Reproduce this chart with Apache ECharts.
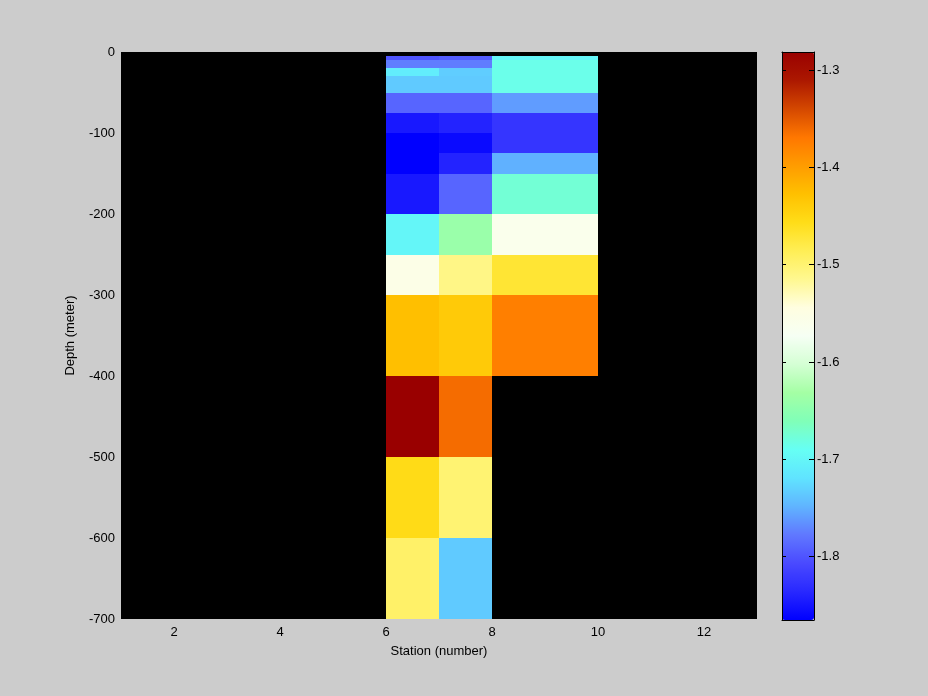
<!DOCTYPE html>
<html>
<head>
<meta charset="utf-8">
<script src="https://cdn.jsdelivr.net/npm/echarts@6/dist/echarts.min.js"></script>
<style>
html,body{margin:0;padding:0;background:#cccccc;}
#chart{width:928px;height:696px;}
</style>
</head>
<body>
<div id="chart"></div>
<script>
// Depth boundaries of rows (m), top to bottom
const depthEdges = [-5, -10, -20, -30, -50, -75, -100, -125, -150, -200, -250, -300, -400, -500, -600, -700];
// Station edges of columns
const stationEdges = [6, 7, 8, 10];
// Values per column (one per depth row), null = no data
const col1Values = [-1.80, -1.775, -1.71, -1.735, -1.79, -1.848, -1.865, -1.865, -1.848, -1.70, -1.555, -1.427, -1.2815, -1.455, -1.495];
const col2Values = [-1.795, -1.775, -1.733, -1.735, -1.79, -1.84, -1.858, -1.84, -1.79, -1.64, -1.51, -1.437, -1.362, -1.50, -1.735];
const col3Values = [-1.70, -1.685, -1.685, -1.685, -1.76, -1.825, -1.825, -1.75, -1.675, -1.562, -1.47, -1.375, null, null, null];
const columns = [col1Values, col2Values, col3Values];

const xTicks = [2, 4, 6, 8, 10, 12];
const colorMin = -1.8652, colorMax = -1.2815;
const colormap = ['#0000FF', '#2828FF', '#4A4AFF', '#6078FF', '#60B4FF', '#60E4FF', '#66FFF4', '#80FFB8',
  '#A4FFA4', '#D4FFD4', '#F6FFF4', '#FFFEE0', '#FFF890', '#FFEE55', '#FFDD18', '#FFC000',
  '#FF9C00', '#FF7700', '#D44800', '#AC1800', '#990000'];

const cells = [];
columns.forEach((vals, c) => {
  vals.forEach((v, r) => {
    if (v !== null) cells.push([stationEdges[c], stationEdges[c + 1], depthEdges[r], depthEdges[r + 1], v]);
  });
});

const font = 'Liberation Sans';
const frameLine = {show: true, onZero: false, lineStyle: {color: '#000', width: 1}};
const chart = echarts.init(document.getElementById('chart'));
chart.setOption({
  backgroundColor: '#cccccc',
  animation: false,
  textStyle: {fontFamily: font},
  grid: [
    {left: 121, top: 52, width: 636, height: 567, show: true, backgroundColor: '#000000', borderWidth: 0},
    {left: 782, top: 52, width: 32, height: 568, show: false}
  ],
  xAxis: [
    {type: 'value', gridIndex: 0, min: 1, max: 13, interval: 1,
      name: 'Station (number)', nameLocation: 'middle', nameGap: 26,
      nameTextStyle: {color: '#000', fontSize: 13, fontFamily: font},
      axisLine: {show: false}, axisTick: {show: false}, splitLine: {show: false},
      axisLabel: {color: '#000', fontSize: 13, fontFamily: font, margin: 7,
        formatter: v => xTicks.indexOf(v) >= 0 ? String(v) : ''}},
    {type: 'value', gridIndex: 1, min: 0, max: 1, position: 'bottom', z: 10,
      axisLine: frameLine, axisTick: {show: false},
      axisLabel: {show: false}, splitLine: {show: false}},
    {type: 'value', gridIndex: 1, min: 0, max: 1, position: 'top', z: 10,
      axisLine: frameLine, axisTick: {show: false},
      axisLabel: {show: false}, splitLine: {show: false}}
  ],
  yAxis: [
    {type: 'value', gridIndex: 0, min: -700, max: 0, interval: 100,
      name: 'Depth (meter)', nameLocation: 'middle', nameGap: 44, nameRotate: 90,
      nameTextStyle: {color: '#000', fontSize: 13, fontFamily: font},
      axisLine: {show: false}, axisTick: {show: false}, splitLine: {show: false},
      axisLabel: {color: '#000', fontSize: 13, fontFamily: font, margin: 6}},
    {type: 'value', gridIndex: 1, min: colorMin, max: colorMax, splitNumber: 6, position: 'left', z: 10,
      axisLine: frameLine,
      axisTick: {show: true, inside: true, length: 4, lineStyle: {color: '#000'}},
      axisLabel: {show: false}, splitLine: {show: false}},
    {type: 'value', gridIndex: 1, min: colorMin, max: colorMax, splitNumber: 6, position: 'right', z: 10,
      axisLine: frameLine,
      axisTick: {show: true, inside: true, length: 5, lineStyle: {color: '#000'}},
      axisLabel: {color: '#000', fontSize: 13, fontFamily: font, margin: 3,
        showMinLabel: false, showMaxLabel: false,
        formatter: v => (Math.abs(v * 10 - Math.round(v * 10)) < 1e-6) ? (Math.round(v * 10) / 10).toFixed(1) : ''},
      splitLine: {show: false}}
  ],
  visualMap: {
    type: 'continuous', min: colorMin, max: colorMax, dimension: 4, seriesIndex: 0,
    orient: 'vertical', left: 782, top: 52, itemWidth: 32, itemHeight: 568, padding: 0,
    calculable: false, realtime: false, hoverLink: false, z: 2,
    inRange: {color: colormap}
  },
  series: [{
    type: 'custom', xAxisIndex: 0, yAxisIndex: 0,
    encode: {x: [0, 1], y: [2, 3]},
    data: cells,
    renderItem: function (params, api) {
      const p0 = api.coord([api.value(0), api.value(2)]);
      const p1 = api.coord([api.value(1), api.value(3)]);
      const x0 = Math.round(p0[0]), y0 = Math.round(p0[1]);
      const x1 = Math.round(p1[0]), y1 = Math.round(p1[1]);
      return {type: 'rect',
        shape: {x: x0, y: y0, width: x1 - x0, height: y1 - y0},
        style: {fill: api.visual('color'), stroke: null}};
    }
  }]
});
</script>
</body>
</html>
